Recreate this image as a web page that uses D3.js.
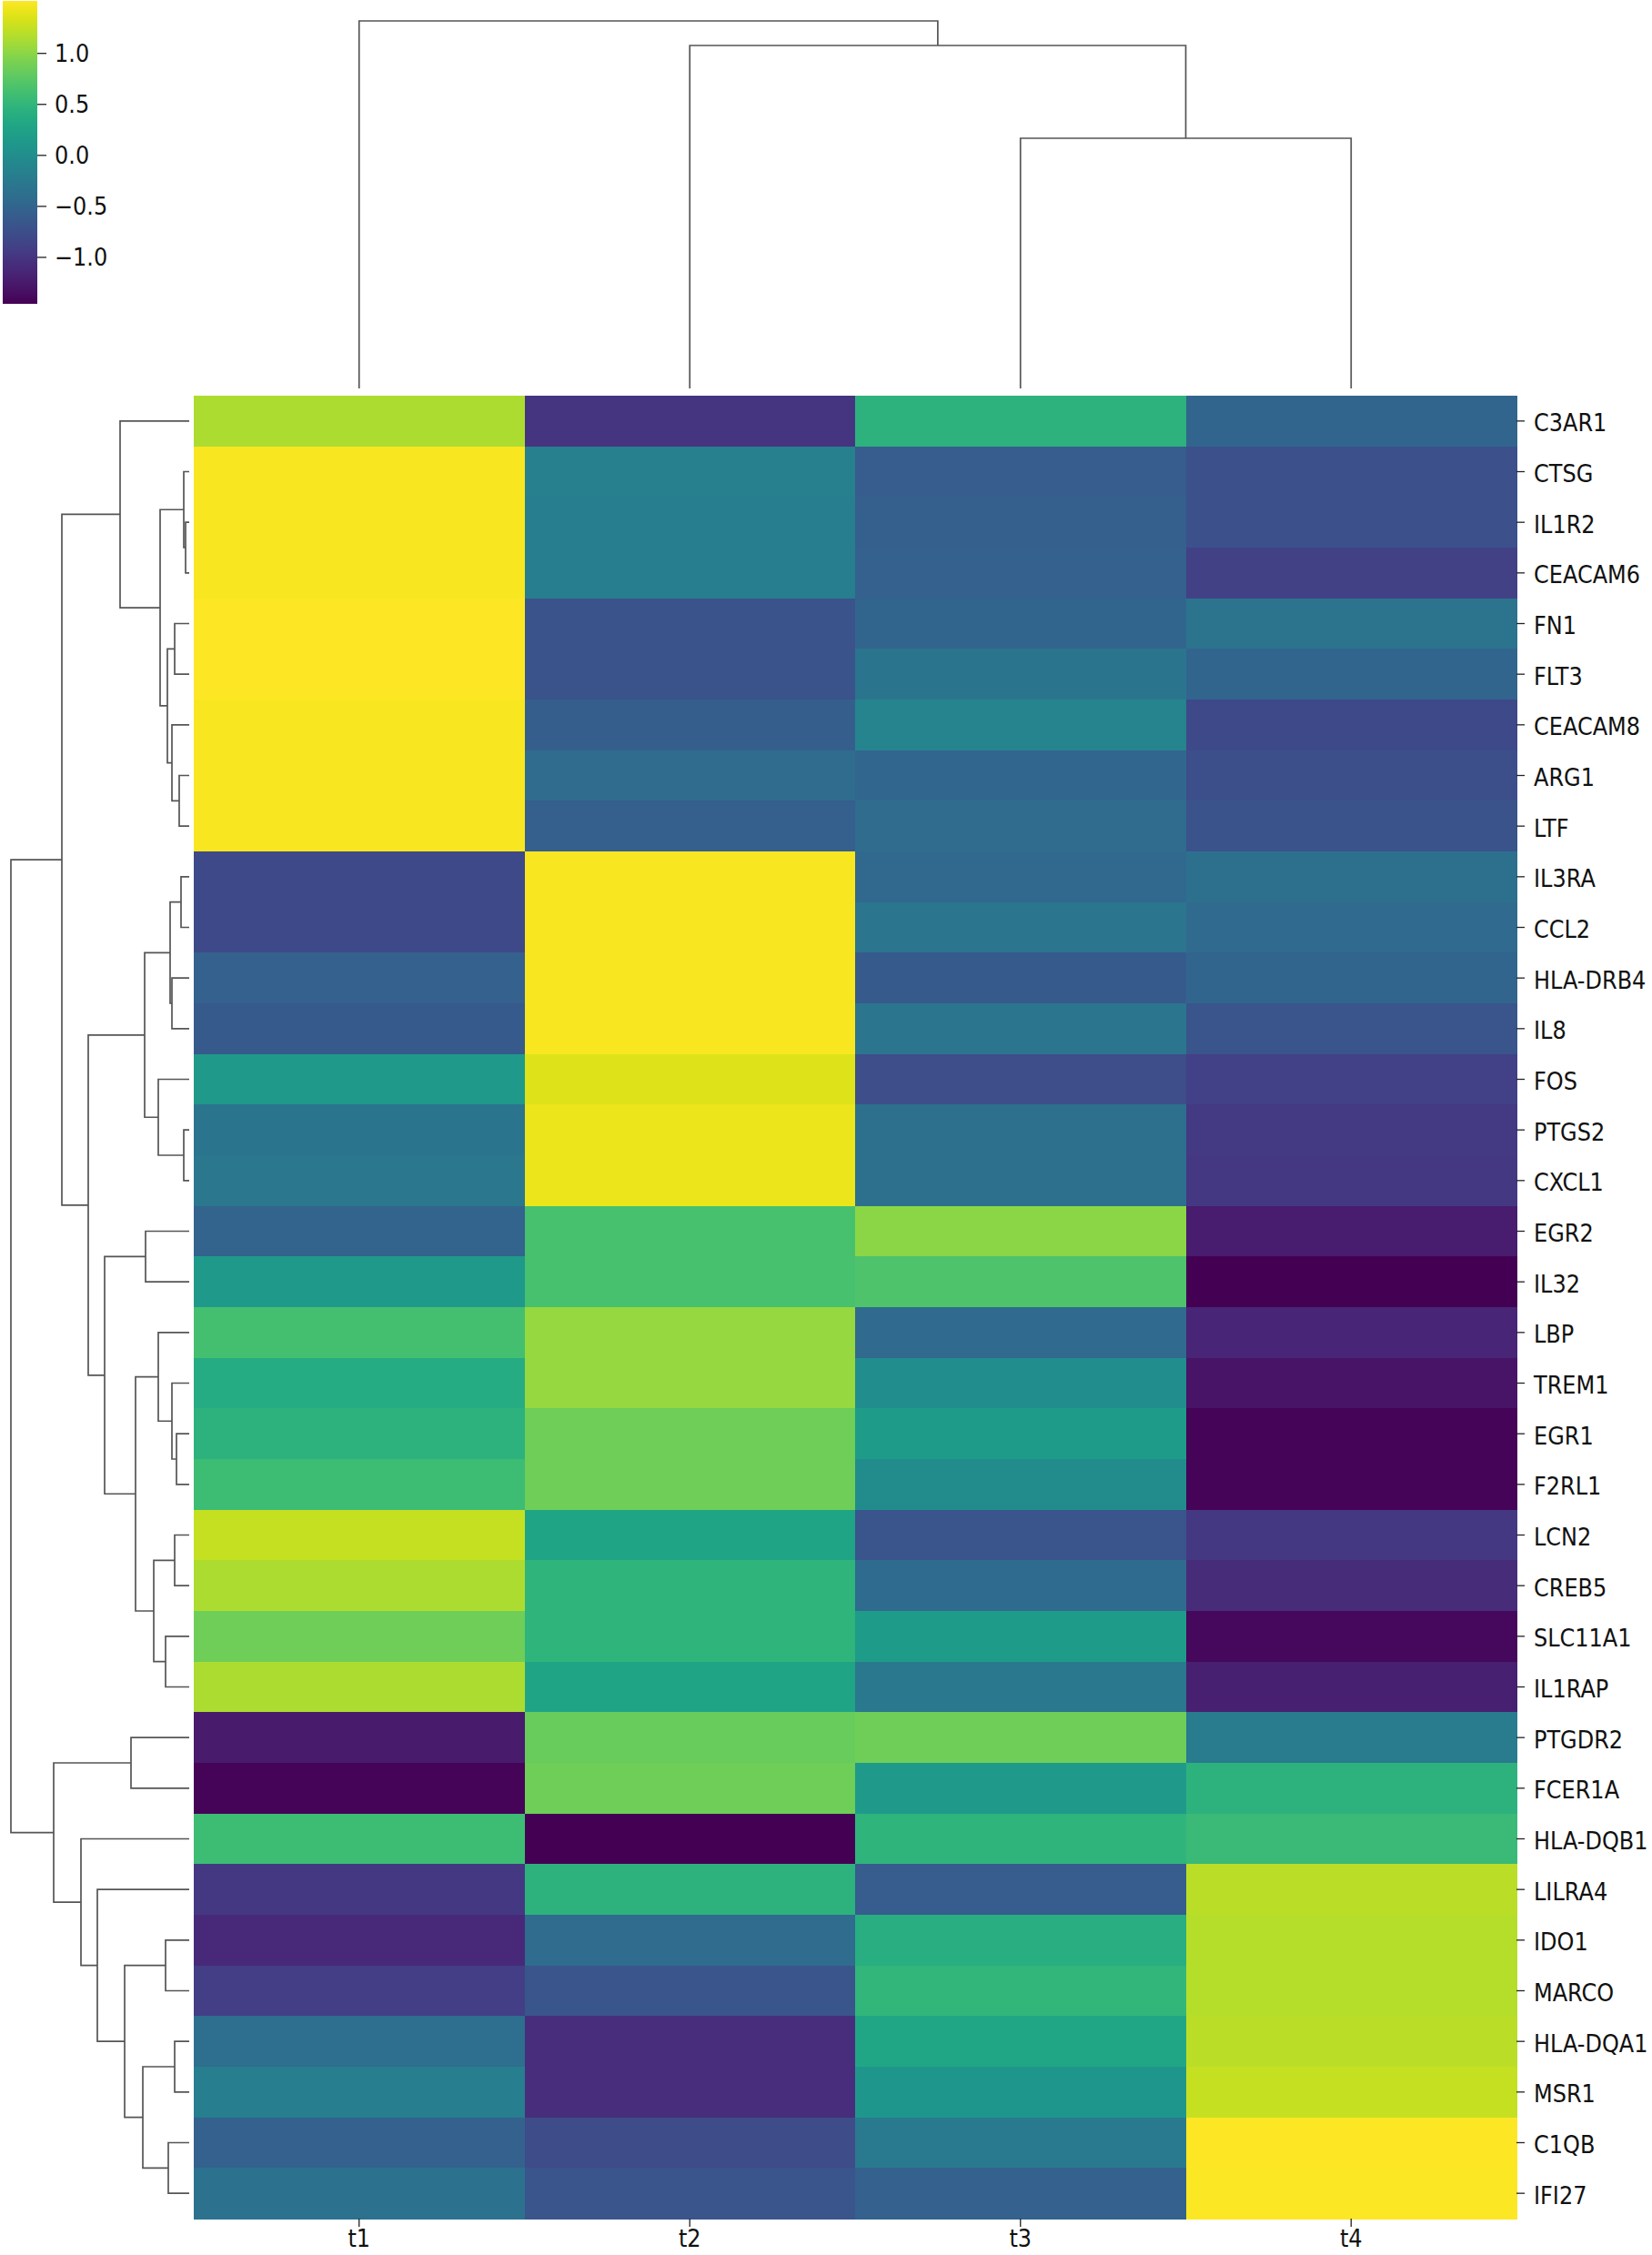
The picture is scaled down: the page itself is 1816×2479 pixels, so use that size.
<!DOCTYPE html>
<html><head><meta charset="utf-8">
<script src="https://cdn.jsdelivr.net/npm/d3@7"></script>
<style>
body{margin:0;background:#fff}
text{font-family:"DejaVu Sans",sans-serif}
</style></head>
<body><svg id="chart" width="1816" height="2479"></svg>
<script>
// ---------- data ----------
const genes = ["C3AR1","CTSG","IL1R2","CEACAM6","FN1","FLT3","CEACAM8","ARG1","LTF",
  "IL3RA","CCL2","HLA-DRB4","IL8","FOS","PTGS2","CXCL1","EGR2","IL32","LBP","TREM1",
  "EGR1","F2RL1","LCN2","CREB5","SLC11A1","IL1RAP","PTGDR2","FCER1A","HLA-DQB1",
  "LILRA4","IDO1","MARCO","HLA-DQA1","MSR1","C1QB","IFI27"];
const samples = ["t1","t2","t3","t4"];
const t1 = [1.15,1.48,1.48,1.48,1.50,1.50,1.48,1.48,1.48,-0.80,-0.80,-0.55,-0.63,0.15,-0.32,-0.28,-0.52,0.15,
  0.62,0.37,0.45,0.58,1.25,1.15,0.85,1.15,-1.25,-1.43,0.58,-0.98,-1.12,-0.92,-0.40,-0.20,-0.55,-0.35];
const t2 = [-1.00,-0.18,-0.20,-0.20,-0.70,-0.70,-0.58,-0.42,-0.57,1.48,1.48,1.48,1.48,1.35,1.42,1.42,0.65,0.65,
  1.04,1.04,0.85,0.85,0.27,0.47,0.47,0.27,0.82,0.85,-1.46,0.45,-0.42,-0.68,-1.08,-1.08,-0.78,-0.68];
const t3 = [0.45,-0.60,-0.57,-0.55,-0.50,-0.32,-0.12,-0.48,-0.42,-0.47,-0.30,-0.63,-0.30,-0.76,-0.38,-0.38,0.99,0.68,
  -0.45,0.00,0.17,-0.03,-0.68,-0.43,0.17,-0.27,0.85,0.15,0.47,-0.60,0.40,0.50,0.30,0.10,-0.25,-0.55];
const t4 = [-0.50,-0.74,-0.74,-0.88,-0.33,-0.50,-0.80,-0.75,-0.70,-0.38,-0.45,-0.50,-0.68,-0.90,-0.97,-0.98,-1.23,-1.46,
  -1.15,-1.30,-1.43,-1.43,-0.98,-1.10,-1.40,-1.20,-0.22,0.45,0.55,1.20,1.18,1.18,1.20,1.25,1.50,1.49];
const seriesValues = [t1, t2, t3, t4];

// row linkage: [childA, childB, height]; ids 0..35 are leaves, 36.. are merges in order
const rowLinkage = [
  [2,3,0.4],[1,36,0.6],[14,15,0.6],[9,10,0.9],[7,8,1.1],[20,21,1.4],[4,5,1.6],[22,23,1.6],
  [32,33,1.6],[6,40,1.9],[11,12,1.9],[19,41,1.9],[39,46,2.1],[34,35,2.3],[42,45,2.4],[24,25,2.6],
  [30,31,2.6],[37,50,3.2],[13,38,3.4],[18,47,3.4],[43,51,3.9],[16,17,4.8],[48,54,4.9],[44,49,5.1],
  [55,56,5.9],[26,27,6.4],[52,59,7.1],[0,53,7.6],[57,60,9.3],[29,62,10.1],[58,64,11.1],[28,65,11.9],
  [63,66,14.0],[61,67,14.9],[68,69,19.6]
];
// column linkage
const colLinkage = [[2,3,2.75],[1,4,3.77],[0,5,4.04]];
const colorbarTicks = [-1.0,-0.5,0.0,0.5,1.0];
const vmin = -1.46, vmax = 1.51;

// ---------- layout ----------
const svg = d3.select("#chart");
const hm = {left:213, right:1667, top:435, bottom:2439};
const x = d3.scaleBand().domain(samples).range([hm.left, hm.right]);
const y = d3.scaleBand().domain(genes).range([hm.top, hm.bottom]);
const color = d3.scaleSequential(d3.interpolateViridis).domain([vmin, vmax]);
const textScale = "scale(1,1.08)";

// heatmap cells
const cells = [];
genes.forEach((g,i)=>samples.forEach((s,j)=>cells.push({g, s, v: seriesValues[j][i]})));
svg.append("g").selectAll("rect").data(cells).join("rect")
  .attr("x", d=>x(d.s)).attr("y", d=>y(d.g))
  .attr("width", x.bandwidth()+0.5).attr("height", y.bandwidth()+0.5)
  .attr("fill", d=>color(d.v)).attr("shape-rendering","crispEdges");

// axes
const yAxis = svg.append("g").attr("transform",`translate(${hm.right},0)`)
  .call(d3.axisRight(y).tickSize(9).tickPadding(10));
yAxis.select(".domain").remove();
yAxis.selectAll("line").attr("stroke","#222").attr("stroke-width",1.3);
yAxis.selectAll("text").attr("font-size",24).attr("fill","#111").attr("font-family","DejaVu Sans")
  .attr("dy",null).attr("y",10.5).attr("transform",textScale);

const xAxis = svg.append("g").attr("transform",`translate(0,${hm.bottom})`)
  .call(d3.axisBottom(x).tickSize(9).tickPadding(3));
xAxis.select(".domain").remove();
xAxis.selectAll("line").attr("stroke","#222").attr("stroke-width",1.3);
xAxis.selectAll("text").attr("font-size",24).attr("fill","#111").attr("font-family","DejaVu Sans")
  .attr("transform",textScale);

// dendrograms
function drawDendro(g, linkage, leafPos, hScale, orient){
  const pos = leafPos.slice(), hgt = leafPos.map(()=>0);
  linkage.forEach(([a,b,h])=>{
    const pts = [[pos[a],hgt[a]],[pos[a],h],[pos[b],h],[pos[b],hgt[b]]];
    const xy = orient==="top" ? pts.map(([p,q])=>[p,hScale(q)]) : pts.map(([p,q])=>[hScale(q),p]);
    g.append("path").attr("d", d3.line()(xy)).attr("fill","none")
      .attr("stroke","#555").attr("stroke-width",1.7);
    pos.push((pos[a]+pos[b])/2); hgt.push(h);
  });
}
const colH = d3.scaleLinear().domain([0, 4.04]).range([427, 23]);
drawDendro(svg.append("g"), colLinkage, samples.map(s=>x(s)+x.bandwidth()/2), colH, "top");
const rowH = d3.scaleLinear().domain([0, 19.6]).range([208, 12]);
drawDendro(svg.append("g"), rowLinkage, genes.map(g=>y(g)+y.bandwidth()/2), rowH, "left");

// colorbar
const cb = {x:3, w:38, top:1, bottom:334};
const grad = svg.append("defs").append("linearGradient").attr("id","vir")
  .attr("x1",0).attr("y1",1).attr("x2",0).attr("y2",0);
d3.range(0,1.0001,0.02).forEach(t=>grad.append("stop").attr("offset",t).attr("stop-color",d3.interpolateViridis(t)));
svg.append("rect").attr("x",cb.x).attr("y",cb.top).attr("width",cb.w).attr("height",cb.bottom-cb.top)
  .attr("fill","url(#vir)");
const cbScale = d3.scaleLinear().domain([vmin,vmax]).range([cb.bottom, cb.top]);
const cbAxis = svg.append("g").attr("transform",`translate(${cb.x+cb.w},0)`)
  .call(d3.axisRight(cbScale).tickValues(colorbarTicks).tickFormat(d3.format(".1f")).tickSize(10).tickPadding(9));
cbAxis.select(".domain").remove();
cbAxis.selectAll("line").attr("stroke","#222").attr("stroke-width",1.3);
cbAxis.selectAll("text").attr("font-size",24).attr("fill","#111").attr("font-family","DejaVu Sans")
  .attr("dy",null).attr("y",8.5).attr("transform",textScale);
</script></body></html>
